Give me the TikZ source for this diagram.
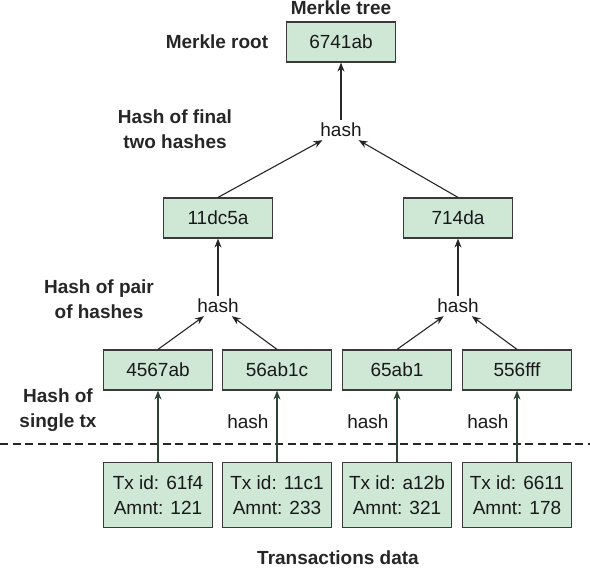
\documentclass[tikz,border=0pt]{standalone}
\usepackage{fontspec}
\setmainfont{Liberation Sans}
\usepackage{xcolor}
\usetikzlibrary{arrows.meta}
\definecolor{hashfill}{HTML}{CFE8D5}
\definecolor{hashdraw}{HTML}{3A3A3A}
\definecolor{txline}{HTML}{2B4536}
\newcommand{\mkfont}{\fontsize{19pt}{25pt}\selectfont}

\begin{document}
\begin{tikzpicture}[x=1pt,y=-1pt,
    hashbox/.style={draw=hashdraw, fill=hashfill, line width=1.2pt, minimum width=109pt,
      minimum height=40pt, inner sep=0pt, font=\mkfont, text=black!90},
    txbox/.style={hashbox, minimum height=65pt, align=center},
    hashop/.style={font=\mkfont, inner sep=3pt, text=black!90},
    note/.style={font=\mkfont\bfseries, align=center, text=black!85},
    up/.style={-{Stealth[length=9pt,width=7pt]}, line width=1.1pt, black!85}]
    \useasboundingbox (0,0) rectangle (590,568);

    % Root level
    \node[hashbox] (root) at (341,42) {6741ab};
    \node[hashop] (h3) at (341,130) {hash};
    \node[note] at (341,8) {Merkle tree};
    \node[note] at (217,42) {Merkle root};
    \node[note] at (175,129) {Hash of final\\two hashes};

    % Mid-level
    \node[hashbox] (b1) at (218,218) {11dc5a};
    \node[hashbox] (b2) at (458,218) {714da};
    \node[hashop] (h1) at (218,306) {hash};
    \node[hashop] (h2) at (458,306) {hash};
    \node[note] at (99,299) {Hash of pair\\of hashes};

    % Leaf level
    \node[hashbox] (l1) at (158,370) {4567ab};
    \node[hashbox] (l2) at (277,370) {56ab1c};
    \node[hashbox] (l3) at (397,370) {65ab1};
    \node[hashbox] (l4) at (517,370) {556fff};
    \node[note] at (58,410) {Hash of\\single tx};

    % Transactions
    \node[txbox] (t1) at (158,495) {Tx id: 61f4\\Amnt: 121};
    \node[txbox] (t2) at (277,495) {Tx id: 11c1\\Amnt: 233};
    \node[txbox] (t3) at (397,495) {Tx id: a12b\\Amnt: 321};
    \node[txbox] (t4) at (517,495) {Tx id: 6611\\Amnt: 178};
    \node[note] at (338,558) {Transactions data};

    \draw[dash pattern=on 8pt off 4.5pt, line width=2.2pt, black!85] (0,444) -- (590,444);

    % Arrows
    \draw[up] (h3) -- (root);
    \draw[up] (b1.north) -- (h3);
    \draw[up] (b2.north) -- (h3);
    \draw[up] (h1) -- (b1);
    \draw[up] (h2) -- (b2);
    \draw[up] (l1.north) -- (h1);
    \draw[up] (l2.north) -- (h1);
    \draw[up] (l3.north) -- (h2);
    \draw[up] (l4.north) -- (h2);
    \draw[up, txline] (t1) -- (l1);
    \draw[up, txline] (t2) -- node[hashop, pos=0.56, left=5pt] {hash} (l2);
    \draw[up, txline] (t3) -- node[hashop, pos=0.56, left=5pt] {hash} (l3);
    \draw[up, txline] (t4) -- node[hashop, pos=0.56, left=5pt] {hash} (l4);
\end{tikzpicture}
\end{document}
